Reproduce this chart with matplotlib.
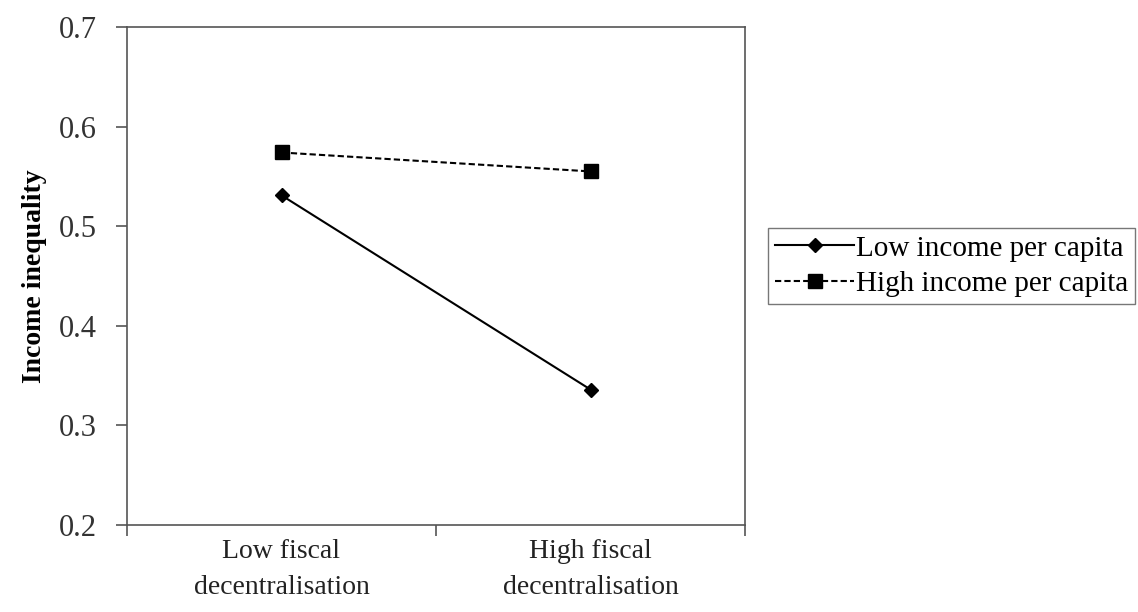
import matplotlib.pyplot as plt

categories = ['Low fiscal\ndecentralisation', 'High fiscal\ndecentralisation']
low_income = [0.531, 0.336]
high_income = [0.574, 0.555]
y_ticks = [0.2, 0.3, 0.4, 0.5, 0.6, 0.7]

plt.rcParams['font.family'] = ['Liberation Serif', 'DejaVu Serif']

fig = plt.figure(figsize=(11.38, 6.12), dpi=100)
ax = fig.add_axes([127 / 1138, 1 - 525 / 612, 618 / 1138, 498 / 612])

x = [0.5, 1.5]
l1, = ax.plot(x, low_income, color='black', lw=1.5, marker='D', ms=7,
              label='Low income per capita')
l2, = ax.plot(x, high_income, color='black', lw=1.5, ls=(0, (3, 1.5)), marker='s', ms=10,
              label='High income per capita')

ax.set_xlim(0, 2)
ax.set_ylim(0.2, 0.7)
ax.set_yticks(y_ticks)
ax.set_yticklabels([f'{v:.1f}' for v in y_ticks], fontsize=22, color='#333333')
ax.set_xticks([0, 1, 2])
ax.set_xticklabels([])
ax.set_xticks(x, minor=True)
ax.set_xticklabels(categories, minor=True, fontsize=20, linespacing=1.6, color='#222222')
ax.tick_params(axis='x', which='minor', length=0, pad=10)
ax.tick_params(axis='both', which='major', direction='out', length=8, width=1.2, color='#555555')
ax.tick_params(axis='y', pad=14)
ax.set_ylabel('Income inequality', fontsize=20, fontweight='bold', labelpad=8)
for s in ax.spines.values():
    s.set_color('#555555')
    s.set_linewidth(1.2)

fig.legend(handles=[l1, l2], loc='upper left', bbox_to_anchor=(768 / 1138, 1 - 228 / 612),
           borderaxespad=0, fontsize=21, frameon=True, fancybox=False, edgecolor='#555555',
           handlelength=2.7, handletextpad=0.05, borderpad=0.25, labelspacing=0.3)

fig.savefig('out.png', dpi=100)
